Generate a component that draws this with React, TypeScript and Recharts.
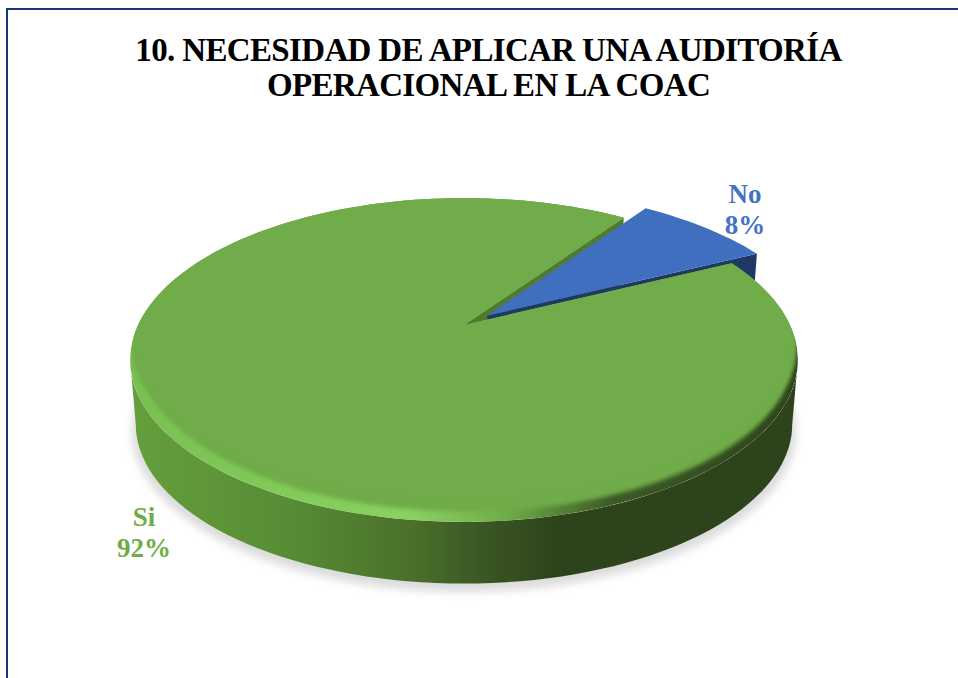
import { Pie, PieChart } from "recharts";

const CATEGORIES = ["Si", "No"];
const PERCENTS = [92, 8];
const TITLE_LINES = ["10. NECESIDAD DE APLICAR UNA AUDITORÍA", "OPERACIONAL EN LA COAC"];

const rows = CATEGORIES.map((name, i) => ({ name, value: PERCENTS[i] }));

const TOP_COLORS = ["#6fac48", "#3f6fbe"];
const WALL_COLORS = ["#507a30", "#1f3864"];
const LABEL_COLORS = ["#70ad47", "#4472c4"];
const EXPLODE = [0, 0.095];
const REACH = [1, 1.03];
const LABEL_SPOTS = [
  { x: 144, y: 526 },
  { x: 745, y: 203 },
];

// fake perspective: the disc is a circle seen through a homography
const TILT = 0.216;
const SQUASH = 0.4736;
const DEPTH = 65;
const SIDE_DEG = (Math.asin(TILT) * 180) / Math.PI;

type Opts = { shiftX?: number; shiftY?: number; z?: number; scale?: number; dx?: number; dy?: number; r?: number };

function project(cx: number, cy: number, R: number, deg: number, r: number, o: Opts = {}) {
  const a = (deg * Math.PI) / 180;
  const u = r * Math.cos(a) + (o.shiftX ?? 0);
  const v = r * Math.sin(a) + (o.shiftY ?? 0);
  const w = 1 + TILT * v;
  const z = o.z ?? 0;
  const s = (o.scale ?? 1) * (1 - 0.017 * z);
  return [cx + (R * s * u) / w + (o.dx ?? 0), cy - (R * SQUASH * s * v) / w + DEPTH * z + (o.dy ?? 0)];
}

function arc(cx: number, cy: number, R: number, from: number, to: number, o: Opts = {}) {
  const pts: number[][] = [];
  const n = Math.max(2, Math.ceil(Math.abs(to - from) / 2));
  for (let i = 0; i <= n; i++) pts.push(project(cx, cy, R, from + ((to - from) * i) / n, o.r ?? 1, o));
  return pts;
}

const toPath = (pts: number[][]) =>
  "M" + pts.map((p) => `${p[0].toFixed(1)},${p[1].toFixed(1)}`).join("L") + "Z";

function sliceOffset(p: any) {
  const mid = ((p.startAngle + p.endAngle) / 2) * (Math.PI / 180);
  const i = CATEGORIES.indexOf(p.name);
  const e = EXPLODE[i] ?? 0;
  return { shiftX: e * Math.cos(mid), shiftY: e * Math.sin(mid), r: REACH[i] ?? 1 };
}

function WallShape(p: any) {
  const { cx, cy, outerRadius: R, startAngle } = p;
  const i = CATEGORIES.indexOf(p.name);
  const off = sliceOffset(p);
  const apexTop = project(cx, cy, R, 0, 0, off);
  const apexLow = project(cx, cy, R, 0, 0, { ...off, z: 1 });
  const edge = project(cx, cy, R, startAngle, off.r, off);
  const edgeLow = project(cx, cy, R, startAngle, off.r, { ...off, z: 1 });
  if (i === 0) {
    // outer wall runs between the two points where the disc outline turns
    const from = 180 + SIDE_DEG;
    const to = 360 - SIDE_DEG;
    const top = arc(cx, cy, R, from, to, off);
    const low = arc(cx, cy, R, to, from, { ...off, z: 1 });
    const shadow = arc(cx, cy, R, 0, 360, { z: 1, scale: 1.012, dy: 6 });
    return (
      <g>
        <path d={toPath(shadow)} fill="#000" fillOpacity={0.14} filter="url(#soft4)" />
        <path d={toPath([...top, ...low])} fill="url(#wallGreen)" />
        <path d={toPath([apexTop, edge, edgeLow, apexLow])} fill={WALL_COLORS[0]} />
      </g>
    );
  }
  // the No slice only shows its radial wall, the green top hides the rest
  return <path d={toPath([apexTop, edge, edgeLow, apexLow])} fill={WALL_COLORS[1]} />;
}

function TopShape(p: any) {
  const { cx, cy, outerRadius: R, startAngle, endAngle } = p;
  const i = CATEGORIES.indexOf(p.name);
  const off = sliceOffset(p);
  const face = toPath([project(cx, cy, R, 0, 0, off), ...arc(cx, cy, R, startAngle, endAngle, off)]);
  if (i !== 0) return <path d={face} fill={TOP_COLORS[1]} />;
  const inner = arc(cx, cy, R, 0, 360, { scale: 0.978, dx: 3, dy: -6 });
  const upper = arc(cx, cy, R, 0, 360, { scale: 0.998, dy: -18 });
  return (
    <g>
      <clipPath id="faceClip">
        <path d={face} />
      </clipPath>
      <g clipPath="url(#faceClip)">
        <path d={face} fill="url(#rimGreen)" />
        <path d={toPath(inner)} fill={TOP_COLORS[0]} filter="url(#soft2)" />
        <path d={toPath(upper)} fill={TOP_COLORS[0]} filter="url(#soft2)" />
      </g>
    </g>
  );
}

function renderLabel(p: any) {
  const i = CATEGORIES.indexOf(p.name);
  const spot = LABEL_SPOTS[i];
  return (
    <text
      x={spot.x}
      y={spot.y}
      textAnchor="middle"
      fontFamily="'Liberation Serif', serif"
      fontWeight="bold"
      fontSize={27}
      fill={LABEL_COLORS[i]}
    >
      <tspan x={spot.x}>{p.name}</tspan>
      <tspan x={spot.x} dy={31}>{`${p.value}%`}</tspan>
    </text>
  );
}

export default function App() {
  return (
    <div style={{ position: "absolute", left: 0, top: 0, width: 958, height: 678, background: "#fff", overflow: "hidden" }}>
      <div
        style={{
          position: "absolute",
          left: 6,
          top: 8,
          width: 960,
          height: 680,
          borderLeft: "2px solid #17357a",
          borderTop: "2px solid #17357a",
        }}
      />
      <div
        style={{
          position: "absolute",
          left: 0,
          top: 33,
          width: 977,
          textAlign: "center",
          fontFamily: "'Liberation Serif', serif",
          fontWeight: "bold",
          fontSize: 33,
          letterSpacing: -0.65,
          lineHeight: "35px",
          color: "#000",
        }}
      >
        {TITLE_LINES.map((t) => (
          <div key={t}>{t}</div>
        ))}
      </div>
      <div style={{ position: "absolute", left: 0, top: 0 }}>
        <PieChart width={958} height={678} margin={{ top: 0, right: 0, bottom: 0, left: 0 }}>
          <defs>
            <linearGradient id="wallGreen" gradientUnits="userSpaceOnUse" x1={130} x2={800} y1={0} y2={0}>
              <stop offset="0" stopColor="#659f3c" />
              <stop offset="0.25" stopColor="#568b34" />
              <stop offset="0.42" stopColor="#4a702b" />
              <stop offset="0.52" stopColor="#3b5823" />
              <stop offset="0.64" stopColor="#2d431b" />
              <stop offset="1" stopColor="#2d431b" />
            </linearGradient>
            <linearGradient id="rimGreen" gradientUnits="userSpaceOnUse" x1={130} x2={800} y1={0} y2={0}>
              <stop offset="0" stopColor="#78c050" />
              <stop offset="0.42" stopColor="#8ad262" />
              <stop offset="0.56" stopColor="#70ad47" />
              <stop offset="0.72" stopColor="#3c5a25" />
              <stop offset="1" stopColor="#2d431b" />
            </linearGradient>
            <filter id="soft2" x="-5%" y="-5%" width="110%" height="110%">
              <feGaussianBlur stdDeviation="2" />
            </filter>
            <filter id="soft4" x="-5%" y="-5%" width="110%" height="110%">
              <feGaussianBlur stdDeviation="4" />
            </filter>
          </defs>
          <Pie
            data={rows}
            dataKey="value"
            nameKey="name"
            cx={464}
            cy={325}
            outerRadius={326}
            startAngle={54.8}
            endAngle={414.8}
            stroke="none"
            shape={WallShape}
            isAnimationActive={false}
          />
          <Pie
            data={rows}
            dataKey="value"
            nameKey="name"
            cx={464}
            cy={325}
            outerRadius={326}
            startAngle={54.8}
            endAngle={414.8}
            stroke="none"
            shape={TopShape}
            label={renderLabel}
            labelLine={false}
            isAnimationActive={false}
          />
        </PieChart>
      </div>
    </div>
  );
}
